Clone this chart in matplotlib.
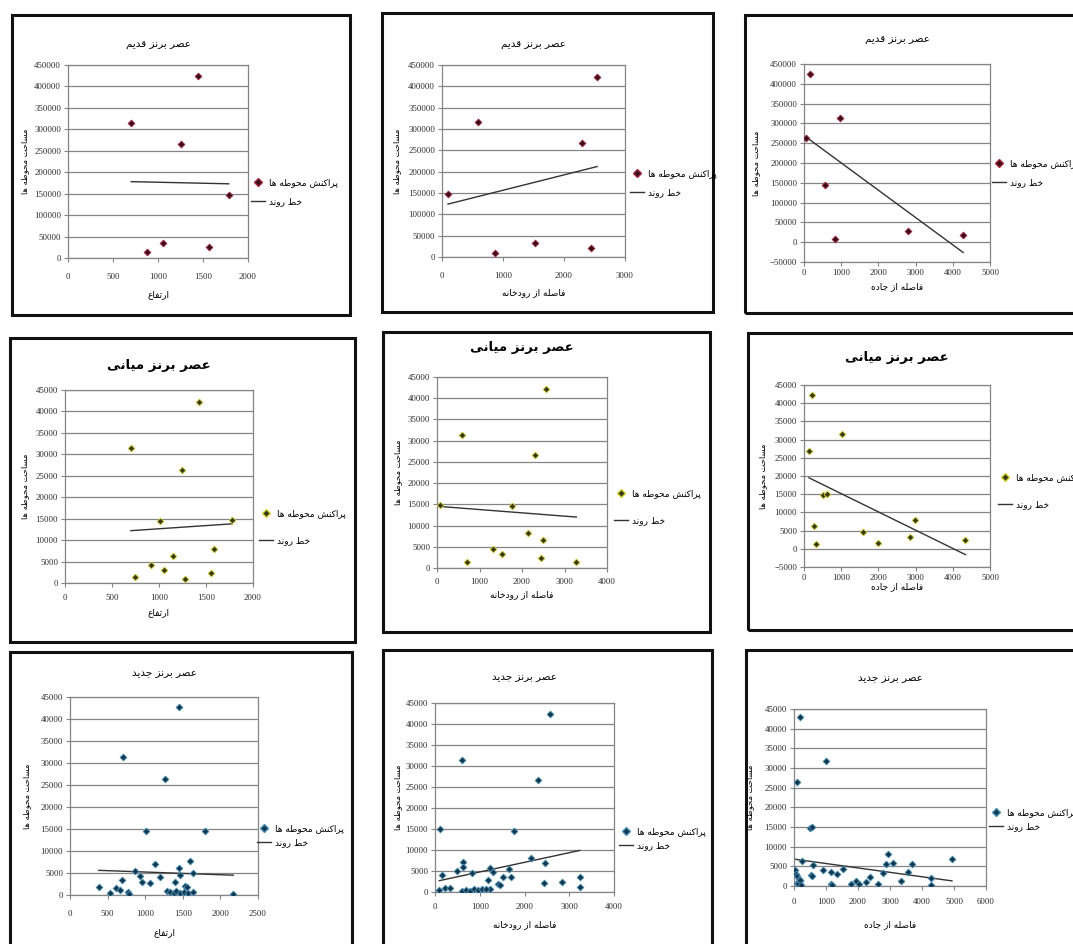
import matplotlib
matplotlib.use("Agg")
import matplotlib.pyplot as plt
from matplotlib.lines import Line2D
from matplotlib.patches import Rectangle
import numpy as np

W, H = 1073, 944

# ---- texts ----
titles = ["عصر برنز قدیم", "عصر برنز میانی", "عصر برنز جدید"]
xlabels = ["ارتفاع", "فاصله از رودخانه", "فاصله از جاده"]
ylabel = "مساحت محوطه ها"
leg_points = "پراکنش محوطه ها"
leg_trend = "خط روند"

# ---- data: early bronze age (row 1) ----
p1_x = [702, 1442, 1261, 1786, 880, 1057, 1564]
p1_y = [314000, 424000, 265500, 147500, 14000, 35000, 25500]
p2_x = [99, 589, 870, 1530, 2295, 2438, 2543]
p2_y = [148700, 316700, 10200, 33700, 266900, 21900, 422300]
p3_x = [153, 63, 964, 568, 838, 2793, 4279]
p3_y = [424700, 262000, 312600, 145600, 7300, 28400, 19100]

# ---- middle bronze age (row 2) ----
p4_x = [701, 1430, 1245, 1014, 1779, 1590, 1145, 915, 1057, 1548, 747, 1277]
p4_y = [31430, 42280, 26380, 14500, 14740, 7910, 6360, 4260, 3100, 2330, 1310, 1000]
p5_x = [588, 2573, 2314, 63, 1765, 2141, 2494, 1318, 1537, 2455, 706, 3278]
p5_y = [31250, 42190, 26560, 14840, 14610, 8200, 6640, 4530, 3280, 2270, 1330, 1330]
p6_x = [205, 134, 1027, 518, 607, 277, 321, 1589, 1991, 2839, 2973, 4339]
p6_y = [42250, 26830, 31560, 14700, 15000, 6380, 1190, 4540, 1650, 3210, 8030, 2290]

# ---- late bronze age (row 3) ----
p7_x = [384, 527, 616, 660, 691, 771, 784, 864, 936, 962, 1060, 1127, 1193, 1016,
        1793, 1291, 1336, 1380, 1416, 1469, 1513, 1571, 1629, 1402, 1451, 1469,
        1527, 1557, 1593, 1629, 2171, 704, 1447, 1269]
p7_y = [1910, 370, 1520, 1150, 3460, 760, 200, 5530, 4220, 2900, 2830, 7050, 3990, 14590,
        14590, 920, 600, 370, 920, 460, 760, 370, 600, 2900, 6130, 4610,
        2070, 1910, 7830, 4980, 230, 31470, 42630, 26270]
p8_x = [111, 1762, 149, 482, 629, 629, 837, 604, 1185, 1222, 1296, 1222, 1407, 1460,
        1518, 1651, 1704, 2148, 2467, 2429, 2837, 3237, 3237, 604, 2562, 2299,
        96, 222, 333, 700, 790, 880, 960, 1050, 1150]
p8_y = [15000, 14590, 4010, 5050, 7210, 6010, 4420, 240, 2810, 5620, 4810, 820, 2020, 1700,
        3610, 5380, 3610, 8030, 6820, 2160, 2400, 3610, 1200, 31420, 42450, 26680,
        580, 1060, 1060, 500, 300, 700, 400, 800, 600]
p9_x = [500, 565, 245, 30, 60, 100, 150, 200, 80, 130, 180, 220, 532, 583, 901, 1169,
        1169, 1180, 1347, 1538, 1772, 1943, 2016, 2261, 2366, 2621, 2793, 2866, 2940,
        3080, 3344, 3577, 3684, 4277, 4277, 4936, 178, 1006, 105, 560]
p9_y = [14830, 15000, 6350, 4000, 3000, 2500, 1800, 1200, 800, 400, 1500, 300, 2720, 5250,
        4160, 3550, 610, 200, 3150, 4420, 430, 1270, 430, 1020, 2290, 610, 3300, 5510,
        8050, 5840, 1190, 3550, 5510, 2130, 180, 6950, 42880, 31730, 26480, 2460]

# ---- trend lines (end values as read from the excel trendlines) ----
t1_x, t1_y = [702, 1786], [178000, 173000]
t2_x, t2_y = [99, 2543], [124000, 212000]
t3_x, t3_y = [63, 4279], [265000, -26000]
t4_x, t4_y = [701, 1779], [12200, 13800]
t5_x, t5_y = [63, 3278], [14500, 12000]
t6_x, t6_y = [134, 4339], [19500, -1600]
t7_x, t7_y = [384, 2171], [5600, 4500]
t8_x, t8_y = [96, 3237], [2700, 9900]
t9_x, t9_y = [30, 4936], [6800, 1300]

# ---- minimal persian shaping (matplotlib has no RTL / joining) ----
FORMS = {
    "ا": (0xFE8D, 0xFE8E, None, None), "د": (0xFEA9, 0xFEAA, None, None),
    "ر": (0xFEAD, 0xFEAE, None, None), "ز": (0xFEAF, 0xFEB0, None, None),
    "و": (0xFEED, 0xFEEE, None, None),
    "ب": (0xFE8F, 0xFE90, 0xFE91, 0xFE92), "پ": (0xFB56, 0xFB57, 0xFB58, 0xFB59),
    "ت": (0xFE95, 0xFE96, 0xFE97, 0xFE98), "ج": (0xFE9D, 0xFE9E, 0xFE9F, 0xFEA0),
    "ح": (0xFEA1, 0xFEA2, 0xFEA3, 0xFEA4), "خ": (0xFEA5, 0xFEA6, 0xFEA7, 0xFEA8),
    "س": (0xFEB1, 0xFEB2, 0xFEB3, 0xFEB4), "ش": (0xFEB5, 0xFEB6, 0xFEB7, 0xFEB8),
    "ص": (0xFEB9, 0xFEBA, 0xFEBB, 0xFEBC), "ط": (0xFEC1, 0xFEC2, 0xFEC3, 0xFEC4),
    "ع": (0xFEC9, 0xFECA, 0xFECB, 0xFECC), "ف": (0xFED1, 0xFED2, 0xFED3, 0xFED4),
    "ق": (0xFED5, 0xFED6, 0xFED7, 0xFED8), "ک": (0xFB8E, 0xFB8F, 0xFB90, 0xFB91),
    "ل": (0xFEDD, 0xFEDE, 0xFEDF, 0xFEE0), "م": (0xFEE1, 0xFEE2, 0xFEE3, 0xFEE4),
    "ن": (0xFEE5, 0xFEE6, 0xFEE7, 0xFEE8), "ه": (0xFEE9, 0xFEEA, 0xFEEB, 0xFEEC),
    "ی": (0xFBFC, 0xFBFD, 0xFBFE, 0xFBFF),
}


def fa(s):
    out = []
    for i, c in enumerate(s):
        if c not in FORMS:
            out.append(c)
            continue
        prev = s[i - 1] if i > 0 else ""
        nxt = s[i + 1] if i + 1 < len(s) else ""
        jp = prev in FORMS and FORMS[prev][2] is not None
        jn = FORMS[c][2] is not None and nxt in FORMS
        f = FORMS[c]
        g = f[3] if (jp and jn) else f[1] if jp else f[2] if jn else f[0]
        out.append(chr(g))
    return "".join(out)[::-1]


AR = ["DejaVu Sans"]
NUM = ["Liberation Serif", "DejaVu Serif"]


def frac(l, t, r, b):
    return [l / W, 1 - b / H, (r - l) / W, (b - t) / H]


# per-panel layout in pixels (plot area, outer box, text positions)
panels = [
    dict(x=p1_x, y=p1_y, tx=t1_x, tyv=t1_y, row=0, col=0, plot=(68, 65, 248, 258), box=(12, 15, 350, 315),
         xlim=(0, 2000, 500), ylim=(0, 450000, 50000), ty=45, xly=295, ylx=25, leg=(251, 192), xpad=8),
    dict(x=p2_x, y=p2_y, tx=t2_x, tyv=t2_y, row=0, col=1, plot=(442, 65, 625, 257), box=(382, 13, 713, 312),
         xlim=(0, 3000, 1000), ylim=(0, 450000, 50000), ty=45, xly=293, ylx=397, leg=(630, 183), xpad=8),
    dict(x=p3_x, y=p3_y, tx=t3_x, tyv=t3_y, row=0, col=2, plot=(804, 64, 990, 262), box=(745, 15, 1085, 313),
         xlim=(0, 5000, 1000), ylim=(-50000, 450000, 50000), ty=40, xly=287, ylx=756, leg=(992, 173), xpad=2),
    dict(x=p4_x, y=p4_y, tx=t4_x, tyv=t4_y, row=1, col=0, plot=(65, 390, 253, 583), box=(10, 338, 355, 642),
         xlim=(0, 2000, 500), ylim=(0, 45000, 5000), ty=365, xly=613, ylx=25, leg=(259, 527), xpad=5),
    dict(x=p5_x, y=p5_y, tx=t5_x, tyv=t5_y, row=1, col=1, plot=(437, 377, 607, 568), box=(383, 332, 710, 632),
         xlim=(0, 4000, 1000), ylim=(0, 45000, 5000), ty=348, xly=595, ylx=398, leg=(614, 507), xpad=4),
    dict(x=p6_x, y=p6_y, tx=t6_x, tyv=t6_y, row=1, col=2, plot=(804, 385, 990, 567), box=(748, 333, 1085, 630),
         xlim=(0, 5000, 1000), ylim=(-5000, 45000, 5000), ty=358, xly=587, ylx=763, leg=(998, 491), xpad=2),
    dict(x=p7_x, y=p7_y, tx=t7_x, tyv=t7_y, row=2, col=0, plot=(70, 697, 258, 895), box=(10, 652, 352, 955),
         xlim=(0, 2500, 500), ylim=(0, 45000, 5000), ty=673, xly=933, ylx=27, leg=(257, 836), xpad=8),
    dict(x=p8_x, y=p8_y, tx=t8_x, tyv=t8_y, row=2, col=1, plot=(435, 703, 614, 892), box=(383, 650, 712, 955),
         xlim=(0, 4000, 1000), ylim=(0, 45000, 5000), ty=677, xly=925, ylx=398, leg=(619, 839), xpad=5),
    dict(x=p9_x, y=p9_y, tx=t9_x, tyv=t9_y, row=2, col=2, plot=(794, 709, 986, 886), box=(746, 650, 1085, 955),
         xlim=(0, 6000, 1000), ylim=(0, 45000, 5000), ty=678, xly=925, ylx=750, leg=(989, 820), xpad=6),
]

# marker colours per row (dark core, coloured fringe like the source)
mk_face = ["#3a0d1c", "#3a3a14", "#12384e"]
mk_edge = ["#a3283f", "#d6d23a", "#4a8fb8"]
title_size = [7.5, 9.5, 7.5]
title_weight = ["normal", "bold", "normal"]
leg_space = [1.15, 2.0, 0.55]

fig = plt.figure(figsize=(W / 100, H / 100), dpi=100)
fig.patch.set_facecolor("white")

for p in panels:
    r = p["row"]
    l, t, rr, b = p["box"]
    fig.patches.append(Rectangle((l / W, 1 - b / H), (rr - l) / W, (b - t) / H,
                                 transform=fig.transFigure, fill=False,
                                 edgecolor="#111111", linewidth=2.2))
    pl, pt, pr, pb = p["plot"]
    ax = fig.add_axes(frac(pl, pt, pr, pb))
    ax.set_facecolor("white")

    x0, x1, xs = p["xlim"]
    y0, y1, ys = p["ylim"]
    ax.set_xlim(x0, x1)
    ax.set_ylim(y0, y1)
    ax.set_xticks(np.arange(x0, x1 + 1, xs))
    ax.set_yticks(np.arange(y0, y1 + 1, ys))
    ax.yaxis.grid(True, color="#858585", linewidth=0.9)
    ax.set_axisbelow(True)
    for s in ax.spines.values():
        s.set_color("#858585")
        s.set_linewidth(0.9)
    ax.tick_params(axis="both", labelsize=6.3, length=3, color="#858585",
                   labelcolor="#2b2b2b", pad=2)
    ax.tick_params(axis="x", pad=p["xpad"])
    for lab in ax.get_xticklabels() + ax.get_yticklabels():
        lab.set_family(NUM)

    ax.scatter(p["x"], p["y"], marker="D", s=12, facecolor=mk_face[r], edgecolor=mk_edge[r],
               linewidth=0.6, zorder=3)
    ax.plot(p["tx"], p["tyv"], color="#333333", linewidth=1.0, zorder=2)

    cx = (pl + pr) / 2 / W
    fig.text(cx, 1 - p["ty"] / H, fa(titles[r]), ha="center", va="center",
             fontsize=title_size[r], fontweight=title_weight[r], family=AR)
    fig.text(cx, 1 - p["xly"] / H, fa(xlabels[p["col"]]), ha="center", va="center",
             fontsize=6.5, family=AR)
    fig.text(p["ylx"] / W, 1 - (pt + pb) / 2 / H, fa(ylabel), ha="center", va="center",
             rotation=90, fontsize=6, family=AR)

    handles = [Line2D([], [], marker="D", ls="", markersize=3.6,
                      markerfacecolor=mk_face[r], markeredgecolor=mk_edge[r]),
               Line2D([], [], color="#333333", linewidth=1.0)]
    lx, ly = p["leg"]
    fig.legend(handles, [fa(leg_points), fa(leg_trend)], loc="center left",
               bbox_to_anchor=(lx / W, 1 - ly / H), frameon=False,
               prop={"family": AR, "size": 6.5}, handlelength=1.6,
               handletextpad=0.4, borderpad=0, borderaxespad=0,
               labelspacing=leg_space[r])

fig.savefig("out.png", dpi=100, facecolor="white")
